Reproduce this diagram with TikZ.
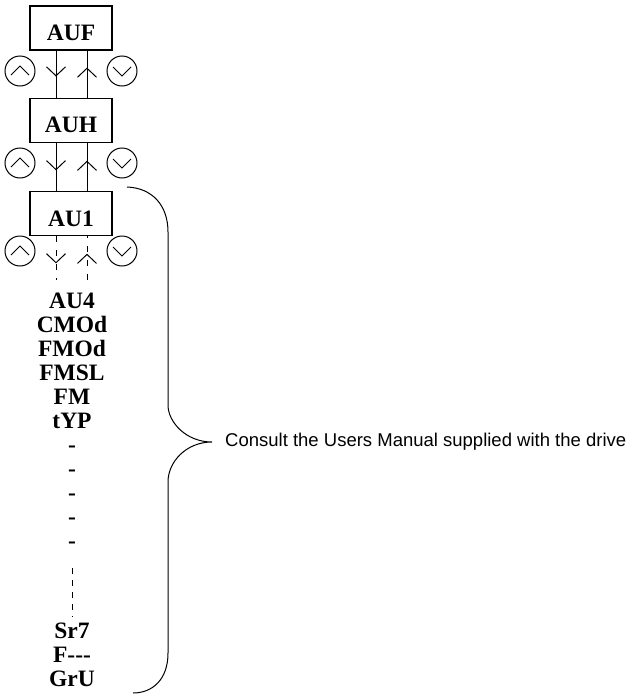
\documentclass[tikz,border=0pt]{standalone}
\usepackage{fontspec}
\setmainfont{Liberation Serif}
\setsansfont{Liberation Sans}
\usetikzlibrary{arrows.meta,decorations.markings,positioning}

\begin{document}
\begin{tikzpicture}[
    x=1pt, y=-1pt,
    node distance=47pt,
    key/.style={rectangle, draw, line width=1.3pt, minimum width=82pt, minimum height=44pt, inner sep=0pt, text height=25pt, text depth=0pt, font=\fontsize{23.5}{24}\selectfont\bfseries},
    item/.style={inner sep=0pt, anchor=base, font=\fontsize{23.5}{24}\selectfont\bfseries},
    btn/.style={circle, draw, line width=1pt, minimum size=30pt, inner sep=0pt},
    upbtn/.style={btn, path picture={\draw[line width=1pt] ([shift={(-9pt,-4pt)}]path picture bounding box.center) -- ([shift={(0pt,5pt)}]path picture bounding box.center) -- ([shift={(9pt,-4pt)}]path picture bounding box.center);}},
    downbtn/.style={btn, path picture={\draw[line width=1pt] ([shift={(-9pt,4pt)}]path picture bounding box.center) -- ([shift={(0pt,-5pt)}]path picture bounding box.center) -- ([shift={(9pt,4pt)}]path picture bounding box.center);}},
    wire/.style={line width=1pt},
    midarrow/.style={postaction={decorate}, decoration={markings, mark=at position #1 with {\arrow{Straight Barb[length=9pt,width=19pt,line width=1pt]}}}}
]
\useasboundingbox (0,0) rectangle (629,696);

% menu boxes
\node[key] (auf) at (71,28) {AUF};
\node[key, below=47pt of auf] (auh) {AUH};
\node[key, below=48pt of auh] (au1) {AU1};

% up / down keys
\node[upbtn] (up1) at (20,71) {};
\node[downbtn] (dn1) at (122,71) {};
\node[upbtn] (up2) at (20,163) {};
\node[downbtn] (dn2) at (122,163) {};
\node[upbtn] (up3) at (20,251) {};
\node[downbtn] (dn3) at (122,251) {};

% links between boxes
\draw[wire, midarrow=0.55] ([xshift=-15pt]auf.south) -- ([xshift=-15pt]auh.north);
\draw[wire, midarrow=0.64] ([xshift=16pt]auh.north) -- ([xshift=16pt]auf.south);
\draw[wire, midarrow=0.57] ([xshift=-15pt]auh.south) -- ([xshift=-15pt]au1.north);
\draw[wire, midarrow=0.63] ([xshift=16pt]au1.north) -- ([xshift=16pt]auh.south);
\coordinate (l3) at (56,280);
\coordinate (r3) at (87,280);
\draw[wire, dash pattern=on 6pt off 8pt, midarrow=0.62] ([xshift=-15pt]au1.south) -- (l3);
\draw[wire, dash pattern=on 6pt off 8pt, midarrow=0.6] (r3) -- ([xshift=16pt]au1.south);

% parameter list
\node[item] (au4) at (72,308) {AU4};
\node[item] (cmod) at (72,332) {CMOd};
\node[item] (fmod) at (72,356) {FMOd};
\node[item] (fmsl) at (72,380) {FMSL};
\node[item] (fm) at (72,404) {FM};
\node[item] (typ) at (72,428) {tYP};
\node[item] (d1) at (72,452) {-};
\node[item] (d2) at (72,476) {-};
\node[item] (d3) at (72,500) {-};
\node[item] (d4) at (72,524) {-};
\node[item] (d5) at (72,548) {-};
\node[item] (sr7) at (72,638) {Sr7};
\node[item] (fdash) at (72,662) {F{-}{-}{-}};
\node[item] (gru) at (72,686) {GrU};
\draw[line width=0.5pt, dash pattern=on 6pt off 6pt] ([yshift=-20pt]d5.south) -- ([yshift=6pt]sr7.north);

% brace and note
\coordinate (tip) at (212,442);
\draw[line width=1pt] (127,187) .. controls (152,188) and (168,205) .. (168,232) -- (168,405)
  .. controls (168,422) and (186,442) .. (tip)
  .. controls (186,442) and (168,462) .. (168,482) -- (168,653)
  .. controls (168,680) and (152,693) .. (133,693);
\node[anchor=west, inner sep=0pt, font=\sffamily\fontsize{18.5}{20}\selectfont] (note) at (225,442) {Consult the Users Manual supplied with the drive};
\end{tikzpicture}
\end{document}
